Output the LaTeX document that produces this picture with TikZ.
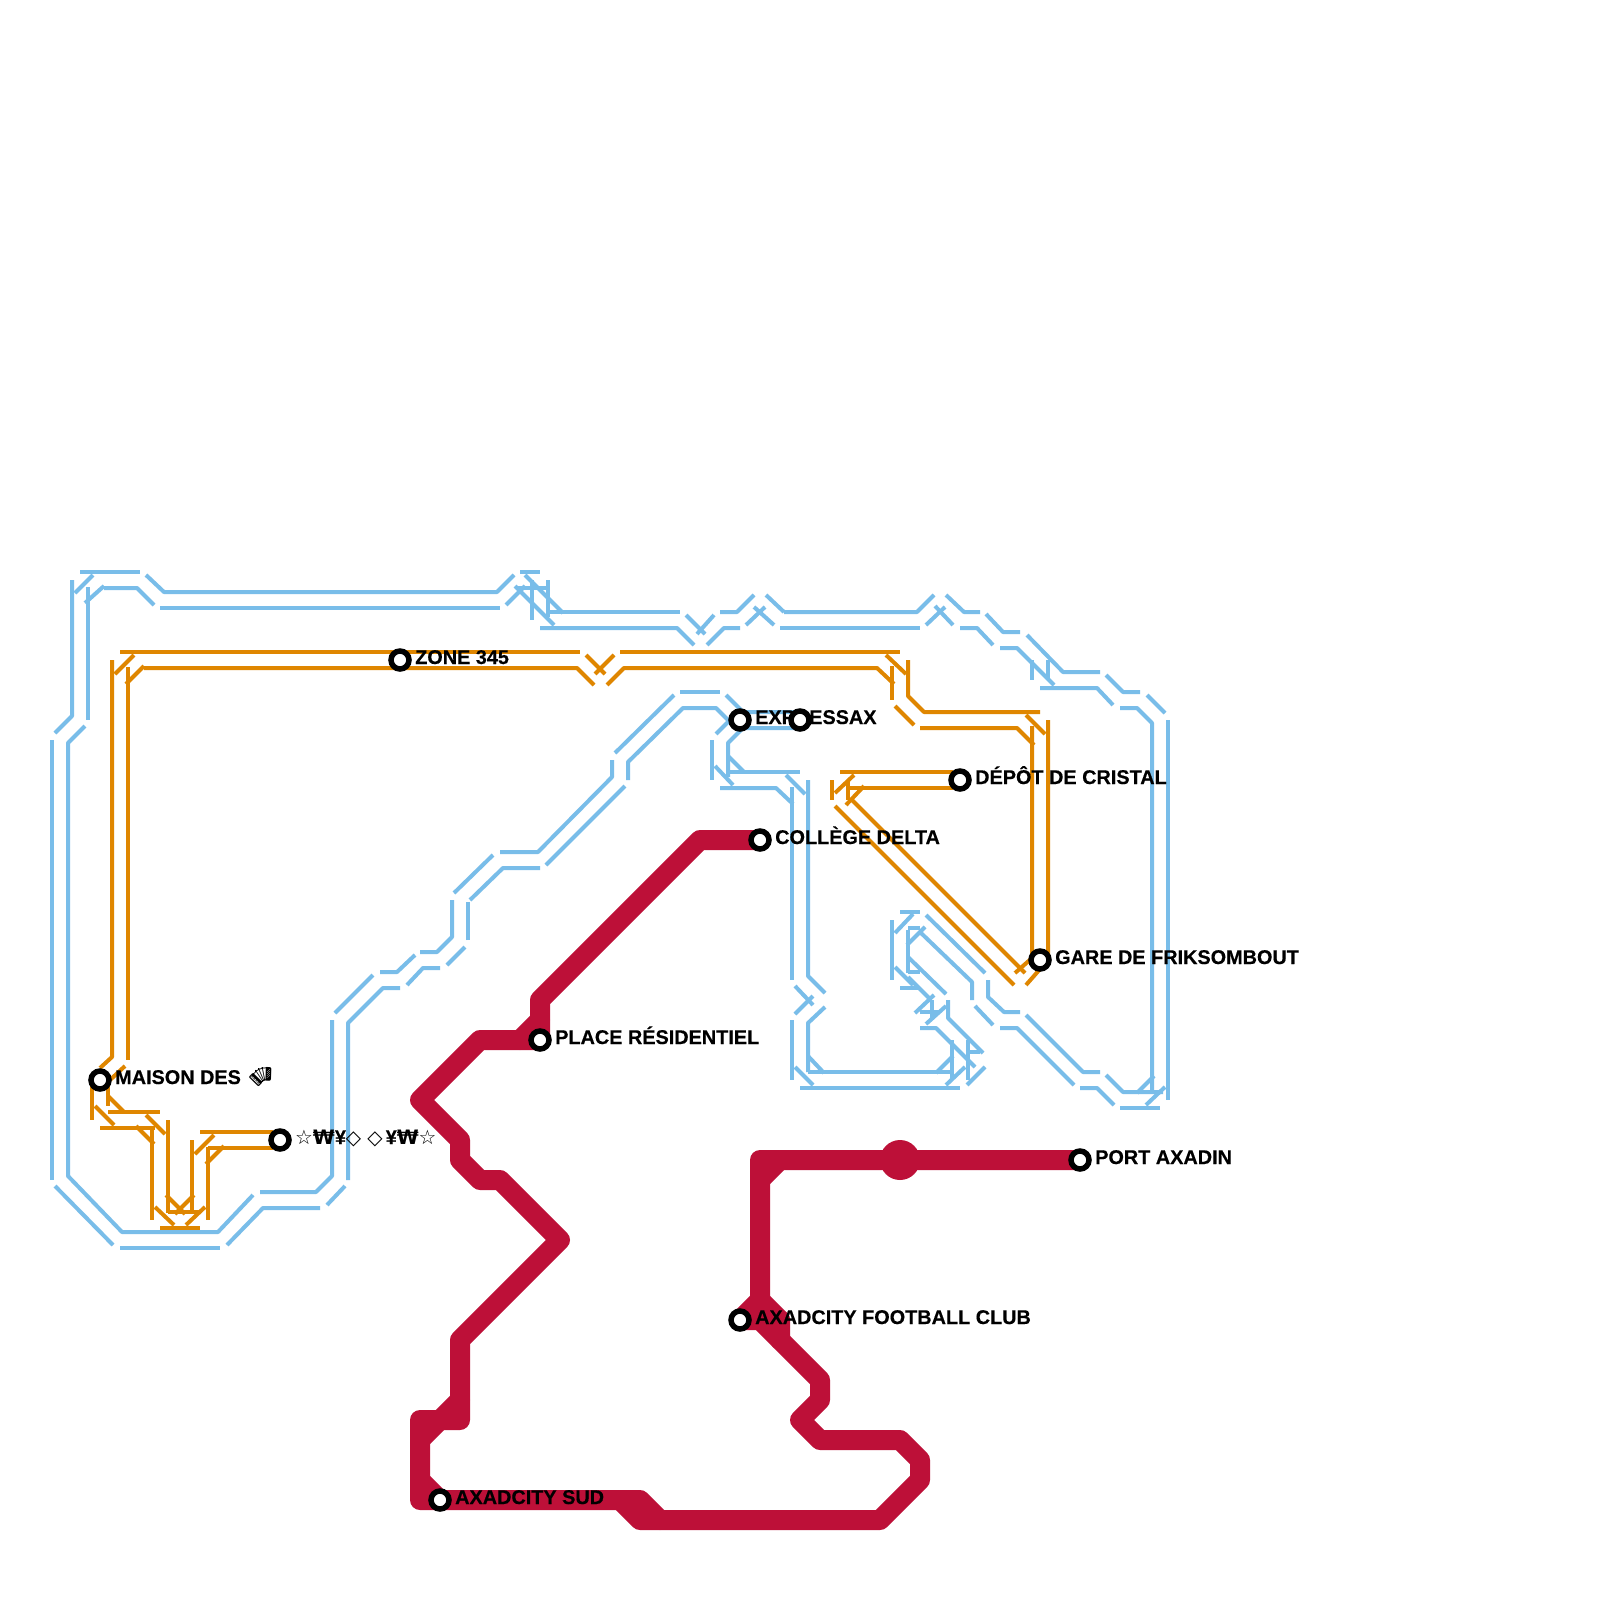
\documentclass[tikz,border=0pt]{standalone}
\usepackage{fontspec}
\setmainfont{Liberation Sans}[BoldFeatures={FakeBold=0.4}]
\newfontfamily\symfont{DejaVu Sans}
\newfontfamily\wonfont{DejaVu Sans Bold}
\newfontfamily\emojifont{Noto Emoji}
\tikzset{
  x=1pt,y=-1pt,
  bl/.style={draw=blueline,line width=4pt,line join=round},
  og/.style={draw=orangeline,line width=4pt,line join=round},
  rd/.style={draw=redline,line width=20pt,line join=round,line cap=round},
  stn/.style={circle,draw=black,fill=white,line width=5.5pt,minimum size=18pt,inner sep=0pt},
  lbl/.style={anchor=base west,inner sep=0pt,font=\fontsize{19.85}{24}\selectfont\bfseries,text=black}
}
\definecolor{blueline}{HTML}{79BDE9}
\definecolor{orangeline}{HTML}{DF8600}
\definecolor{redline}{HTML}{BD1038}
\begin{document}
\begin{tikzpicture}
\useasboundingbox[fill=white] (0,0) rectangle (1600,1600);
% blue line
\draw[bl] (72,580)--(72,716)--(55,733);
\draw[bl] (88,587)--(88,720);
\draw[bl] (52,740)--(52,1180);
\draw[bl] (85,726)--(68,743)--(68,1176)--(122,1232)--(218,1232)--(253,1195);
\draw[bl] (55,1186)--(113,1245);
\draw[bl] (120,1248)--(220,1248);
\draw[bl] (227,1245)--(263,1208)--(320,1208);
\draw[bl] (260,1192)--(316,1192)--(332,1176)--(332,1020);
\draw[bl] (327,1205)--(345,1186);
\draw[bl] (348,1180)--(348,1023)--(383,988)--(400,988);
\draw[bl] (335,1013)--(373,975);
\draw[bl] (380,972)--(397,972)--(415,955);
\draw[bl] (407,985)--(423,968)--(440,968);
\draw[bl] (420,952)--(437,952)--(452,937)--(452,900);
\draw[bl] (447,965)--(465,947);
\draw[bl] (468,940)--(468,902);
\draw[bl] (470,900)--(503,868)--(540,868);
\draw[bl] (454,893)--(493,855);
\draw[bl] (500,852)--(538,852)--(612,777)--(612,760);
\draw[bl] (546,865)--(625,786);
\draw[bl] (628,780)--(628,762)--(683,708)--(716,708)--(729,721)--(716,734);
\draw[bl] (615,753)--(674,695);
\draw[bl] (680,692)--(720,692);
\draw[bl] (726,695)--(743,712)--(800,712);
\draw[bl] (800,728)--(743,728)--(728,743)--(728,777);
\draw[bl] (712,740)--(712,780);
\draw[bl] (715,766)--(733,785);
\draw[bl] (728,756)--(744,772);
\draw[bl] (727,772)--(800,772);
\draw[bl] (720,788)--(776,788)--(793,804);
\draw[bl] (786,775)--(805,794);
\draw[bl] (792,787)--(792,980);
\draw[bl] (808,780)--(808,976)--(825,993);
\draw[bl] (795,986)--(813,1005);
\draw[bl] (795,1014)--(813,996);
\draw[bl] (825,1007)--(808,1023)--(808,1072);
\draw[bl] (808,1056)--(824,1073);
\draw[bl] (792,1020)--(792,1080);
\draw[bl] (795,1067)--(813,1085);
\draw[bl] (808,1072)--(952,1072);
\draw[bl] (800,1088)--(960,1088);
\draw[bl] (936,1073)--(953,1056);
\draw[bl] (946,1085)--(965,1067);
\draw[bl] (952,1040)--(952,1080);
\draw[bl] (968,1040)--(968,1080);
\draw[bl] (967,1085)--(985,1067);
\draw[bl] (968,1052)--(980,1052);
\draw[bl] (948,1000)--(948,1018)--(983,1053);
\draw[bl] (920,1028)--(936,1028)--(975,1067);
\draw[bl] (915,1013)--(934,995);
\draw[bl] (926,1024)--(946,1006);
\draw[bl] (932,1000)--(932,1020);
\draw[bl] (920,1012)--(940,1012);
\draw[bl] (908,977)--(929,998);
\draw[bl] (908,957)--(946,994);
\draw[bl] (900,988)--(920,988);
\draw[bl] (908,972)--(920,972);
\draw[bl] (892,920)--(892,980);
\draw[bl] (908,930)--(908,973);
\draw[bl] (895,967)--(913,985);
\draw[bl] (895,933)--(913,914);
\draw[bl] (907,945)--(925,927);
\draw[bl] (900,912)--(920,912);
\draw[bl] (908,928)--(920,928);
\draw[bl] (926,915)--(985,973);
\draw[bl] (921,933)--(972,982)--(972,1000);
\draw[bl] (988,980)--(988,997)--(1004,1012)--(1020,1012);
\draw[bl] (975,1006)--(993,1025);
\draw[bl] (1000,1028)--(1017,1028)--(1074,1085);
\draw[bl] (1026,1015)--(1083,1072)--(1100,1072);
\draw[bl] (1080,1088)--(1097,1088)--(1114,1105);
\draw[bl] (1106,1075)--(1123,1092)--(1163,1092);
\draw[bl] (1120,1108)--(1160,1108);
\draw[bl] (1137,1093)--(1154,1076);
\draw[bl] (1146,1105)--(1165,1087);
\draw[bl] (1120,708)--(1137,708)--(1152,723)--(1152,1090);
\draw[bl] (1168,720)--(1168,1100);
\draw[bl] (1165,713)--(1147,695);
\draw[bl] (1106,675)--(1123,692)--(1140,692);
\draw[bl] (1113,705)--(1097,688)--(1040,688);
\draw[bl] (1100,672)--(1063,672)--(1027,635);
\draw[bl] (1054,685)--(1017,648)--(1000,648);
\draw[bl] (1020,632)--(1003,632)--(986,614);
\draw[bl] (1032,660)--(1032,680);
\draw[bl] (1048,660)--(1048,680);
\draw[bl] (993,645)--(977,628)--(960,628);
\draw[bl] (980,612)--(964,612)--(946,595);
\draw[bl] (953,625)--(935,606);
\draw[bl] (784,612)--(917,612)--(934,595);
\draw[bl] (780,628)--(920,628);
\draw[bl] (926,625)--(945,607);
\draw[bl] (766,595)--(784,612);
\draw[bl] (754,607)--(774,625);
\draw[bl] (720,612)--(737,612)--(754,595);
\draw[bl] (746,625)--(765,607);
\draw[bl] (707,645)--(724,628)--(740,628);
\draw[bl] (697,634)--(714,615);
\draw[bl] (686,615)--(705,634);
\draw[bl] (540,628)--(677,628)--(694,645);
\draw[bl] (548,612)--(680,612);
\draw[bl] (525,575)--(563,613);
\draw[bl] (515,586)--(554,625);
\draw[bl] (532,580)--(532,620);
\draw[bl] (548,580)--(548,617);
\draw[bl] (520,572)--(540,572);
\draw[bl] (517,588)--(548,588);
\draw[bl] (146,575)--(164,592)--(497,592)--(514,575);
\draw[bl] (506,605)--(525,586);
\draw[bl] (160,608)--(500,608);
\draw[bl] (104,588)--(137,588)--(154,605);
\draw[bl] (80,572)--(140,572);
\draw[bl] (75,593)--(93,575);
\draw[bl] (85,603)--(104,586);
% orange line
\draw[og] (120,652)--(580,652);
\draw[og] (144,668)--(577,668)--(594,685);
\draw[og] (112,660)--(112,1057)--(100,1068);
\draw[og] (128,667)--(128,1060);
\draw[og] (115,674)--(134,655);
\draw[og] (126,684)--(144,666);
\draw[og] (125,1066)--(110,1080);
\draw[og] (92,1080)--(92,1120);
\draw[og] (108,1080)--(108,1106);
\draw[og] (108,1096)--(124,1112);
\draw[og] (95,1106)--(114,1125);
\draw[og] (108,1112)--(160,1112);
\draw[og] (100,1128)--(155,1128);
\draw[og] (146,1115)--(165,1134);
\draw[og] (136,1126)--(154,1144);
\draw[og] (152,1126)--(152,1220);
\draw[og] (168,1120)--(168,1213);
\draw[og] (192,1140)--(192,1213);
\draw[og] (208,1147)--(208,1220);
\draw[og] (155,1207)--(174,1225);
\draw[og] (166,1195)--(185,1214);
\draw[og] (168,1212)--(200,1212);
\draw[og] (160,1228)--(200,1228);
\draw[og] (175,1214)--(194,1195);
\draw[og] (186,1225)--(205,1207);
\draw[og] (195,1154)--(214,1135);
\draw[og] (206,1164)--(224,1146);
\draw[og] (200,1132)--(273,1132);
\draw[og] (208,1148)--(273,1148);
\draw[og] (586,655)--(605,674);
\draw[og] (595,674)--(614,655);
\draw[og] (607,685)--(624,668)--(877,668)--(894,684);
\draw[og] (620,652)--(900,652);
\draw[og] (886,655)--(906,674);
\draw[og] (892,666)--(892,700);
\draw[og] (908,660)--(908,696)--(924,712)--(1040,712);
\draw[og] (895,706)--(914,725);
\draw[og] (920,728)--(1017,728)--(1034,745);
\draw[og] (1026,715)--(1045,734);
\draw[og] (1032,726)--(1032,958)--(1015,973);
\draw[og] (1048,720)--(1048,960)--(1026,985);
\draw[og] (835,806)--(1014,985);
\draw[og] (852,800)--(1025,973);
\draw[og] (840,772)--(953,772);
\draw[og] (847,788)--(953,788);
\draw[og] (835,793)--(854,775);
\draw[og] (846,805)--(864,786);
\draw[og] (832,780)--(832,800);
\draw[og] (848,782)--(848,800);
% red line
\draw[rd] (760,840)--(700,840)--(540,1000)--(540,1040)--(480,1040)--(420,1100)--(460,1140)--(460,1160)--(480,1180)--(500,1180)--(560,1240)--(460,1340)--(460,1420)--(420,1420)--(420,1500)--(640,1500)--(660,1520);
\draw[rd] (620,1500)--(640,1520)--(880,1520)--(920,1480)--(920,1460)--(900,1440)--(820,1440)--(800,1420)--(820,1400)--(820,1380)--(760,1320)--(740,1320)--(760,1300)--(760,1160)--(1080,1160);
\draw[rd] (520,1040)--(540,1020);
\draw[rd] (420,1440)--(460,1400);
\draw[rd] (420,1480)--(440,1500);
\draw[rd] (760,1300)--(780,1320)--(780,1340);
\draw[rd] (760,1320)--(780,1320);
\draw[rd] (760,1180)--(780,1160);
\fill[redline] (900,1160) circle (20);
% stations and labels
\node[stn] (maison) at (100,1080) {};
\node[lbl] (maisonl) at (115,1084) {MAISON DES {\emojifont\fontsize{22}{24}\selectfont\char"1FA97}};
\node[stn] (star) at (280,1140) {};
\node[lbl] (starl) at (295,1144) {{\symfont\mdseries ☆}{\wonfont ₩}¥{\symfont\mdseries ◇ ◇}\kern3pt ¥{\wonfont ₩}{\symfont\mdseries ☆}};
\node[stn] (zone) at (400,660) {};
\node[lbl] (zonel) at (415,664) {ZONE 345};
\node[stn] (expa) at (740,720) {};
\node[lbl] (expl) at (755,724) {EXPRESSAX};
\node[stn] (expb) at (800,720) {};
\node[stn] (depot) at (960,780) {};
\node[lbl] (depotl) at (975,784) {DÉPÔT DE CRISTAL};
\node[stn] (coll) at (760,840) {};
\node[lbl] (colll) at (775,844) {COLLÈGE DELTA};
\node[stn] (gare) at (1040,960) {};
\node[lbl] (garel) at (1055,964) {GARE DE FRIKSOMBOUT};
\node[stn] (place) at (540,1040) {};
\node[lbl] (placel) at (555,1044) {PLACE RÉSIDENTIEL};
\node[stn] (foot) at (740,1320) {};
\node[lbl] (footl) at (755,1324) {AXADCITY FOOTBALL CLUB};
\node[stn] (sud) at (440,1500) {};
\node[lbl] (sudl) at (455,1504) {AXADCITY SUD};
\node[stn] (port) at (1080,1160) {};
\node[lbl] (portl) at (1095,1164) {PORT AXADIN};
\end{tikzpicture}
\end{document}
